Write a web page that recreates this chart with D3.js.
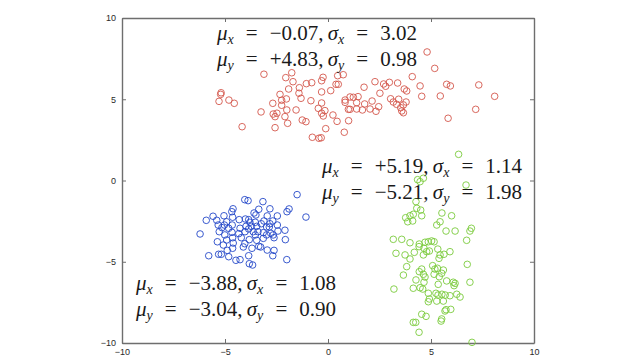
<!DOCTYPE html>
<html><head><meta charset="utf-8">
<script src="https://cdn.jsdelivr.net/npm/d3@7"></script>
<style>body{margin:0;background:#fff}svg{display:block}</style>
</head><body>
<svg id="c" width="640" height="360"></svg>
<script>
const xTicks = [-10, -5, 0, 5, 10];
const yTicks = [-10, -5, 0, 5, 10];

const redX = [-3.11,-1.76,-2.05,-1.70,-0.24,-0.31,0.47,0.74,0.39,0.50,-1.05,-0.79,-1.39,-1.91,-5.19,-5.21,-5.29,-4.81,-4.55,-1.41,-0.31,0.13,-2.33,-2.25,-2.02,-1.31,-0.83,-2.68,-2.25,-0.31,0.83,0.83,1.23,0.99,-1.55,-2.00,-0.47,-0.15,-0.31,-0.23,-3.25,-2.66,-2.57,-2.48,-2.09,-1.96,-1.25,-1.07,0.24,0.44,1.00,-0.11,0.79,-4.17,-2.57,-0.76,-0.33,4.81,5.18,4.09,2.28,2.70,2.98,2.80,3.38,1.75,3.70,3.82,4.47,5.76,5.94,7.32,8.09,2.52,1.46,1.39,1.78,2.14,2.46,2.04,1.67,1.39,1.07,2.33,3.04,3.17,3.33,3.43,3.79,3.66,3.53,3.58,3.66,4.55,5.45,7.17,5.83,-0.44,1.07];
const redY = [6.54,6.63,6.33,6.08,6.35,6.14,6.45,6.51,5.92,5.92,5.96,6.02,5.71,5.63,5.40,5.30,4.87,4.95,4.75,5.37,5.45,5.53,5.30,4.94,5.02,5.06,4.91,4.75,4.63,4.77,4.95,4.81,5.12,4.38,4.34,4.34,4.44,4.30,4.14,3.97,4.22,4.09,3.93,4.14,3.93,3.52,3.72,3.62,4.03,3.64,3.68,3.19,2.97,3.31,3.25,2.66,2.63,7.91,6.90,6.39,6.08,5.94,6.04,5.80,6.00,5.74,5.63,5.51,5.82,5.92,5.82,5.88,5.18,5.37,5.16,4.79,4.71,4.89,4.54,4.40,4.34,4.40,4.38,4.26,5.03,4.83,4.69,5.00,4.83,4.65,4.48,4.28,4.17,5.18,5.20,4.38,3.83,2.60,5.14];

const blueX = [-1.50,-4.04,-3.88,-3.16,-4.61,-2.82,-1.89,-1.99,-3.36,-5.91,-5.58,-5.40,-5.05,-4.67,-4.63,-4.92,-4.31,-4.01,-3.85,-3.59,-3.50,-2.95,-2.46,-1.07,-5.33,-5.03,-4.65,-3.53,-3.11,-2.68,-3.98,-3.72,-3.46,-2.98,-2.85,-2.46,-6.21,-5.28,-5.01,-4.66,-4.33,-4.03,-3.85,-3.63,-3.40,-3.14,-2.78,-2.66,-2.09,-2.43,-5.37,-4.92,-4.63,-4.21,-3.82,-3.46,-3.14,-2.62,-2.07,-4.60,-4.89,-4.63,-4.11,-3.69,-3.36,-3.27,-2.95,-2.62,-5.79,-5.31,-5.18,-4.82,-3.85,-2.68,-2.00,-4.47,-4.27,-3.82,-3.66,-3.79,-3.24,-2.82,-4.27,-4.82,-5.15,-3.53,-2.98,-4.04,-5.08];
const blueY = [-0.87,-1.18,-1.24,-1.30,-1.74,-1.74,-1.75,-1.92,-1.77,-2.45,-2.20,-2.45,-2.17,-1.92,-2.26,-2.54,-2.41,-2.37,-2.41,-2.00,-2.12,-2.18,-2.18,-2.25,-2.74,-2.74,-2.74,-2.57,-2.49,-2.49,-2.82,-2.82,-2.82,-2.86,-2.86,-2.74,-3.29,-3.15,-3.35,-3.19,-3.27,-3.15,-2.98,-3.15,-3.15,-3.21,-3.25,-3.35,-3.06,-3.11,-3.77,-3.66,-3.52,-3.52,-3.64,-3.68,-3.56,-3.52,-3.64,-3.85,-4.30,-4.17,-4.09,-4.17,-4.05,-4.09,-4.28,-4.30,-4.63,-4.54,-4.54,-4.69,-4.63,-4.63,-4.87,-4.91,-4.87,-5.12,-5.20,-2.57,-2.66,-2.66,-2.94,-2.94,-2.90,-3.35,-3.35,-3.89,-3.97];

const greenX = [6.34,6.70,4.63,4.35,4.47,4.27,4.14,3.98,3.77,3.87,4.11,4.55,4.50,4.31,5.53,6.00,5.44,5.28,5.73,6.17,6.96,6.89,6.73,3.17,3.58,3.98,4.43,4.71,4.87,5.03,5.15,3.30,3.74,3.98,4.19,4.42,4.66,4.79,4.92,4.63,5.33,5.44,5.39,5.63,5.92,3.82,3.66,4.55,4.43,4.63,4.71,5.08,5.19,5.31,5.15,5.60,5.52,5.40,5.76,6.76,4.27,4.66,5.35,6.08,6.12,6.17,6.89,3.20,4.14,4.47,4.60,4.87,5.24,5.34,5.53,5.69,5.92,6.25,6.41,4.92,4.87,5.28,5.60,5.73,5.68,5.96,4.55,4.76,5.52,5.49,4.14,4.26,4.42,6.99];
const greenY = [1.61,-0.28,0.14,0.05,-0.07,-1.30,-2.08,-2.17,-2.29,-2.54,-2.49,-2.17,-1.82,-1.71,-2.00,-2.17,-2.54,-2.74,-3.11,-3.11,-2.94,-3.11,-3.68,-3.62,-3.62,-3.83,-3.91,-3.80,-3.77,-3.72,-3.77,-4.48,-4.58,-4.83,-4.42,-4.07,-4.17,-4.38,-4.34,-4.58,-4.22,-4.58,-4.79,-4.54,-4.38,-5.30,-5.82,-5.45,-5.61,-5.77,-5.94,-5.24,-5.45,-5.40,-5.77,-5.51,-5.71,-5.92,-6.18,-5.16,-6.12,-6.26,-6.39,-6.26,-6.47,-6.33,-6.26,-6.68,-6.63,-6.60,-6.68,-6.94,-6.94,-7.05,-7.00,-7.05,-7.09,-7.00,-7.17,-7.29,-7.46,-7.42,-7.42,-7.95,-8.03,-7.93,-8.23,-8.36,-8.52,-8.65,-8.73,-8.73,-9.34,-9.96];

const muX = ["\u22120.07", "+5.19", "\u22123.88"];
const sigX = ["3.02", "1.14", "1.08"];
const muY = ["+4.83", "\u22125.21", "\u22123.04"];
const sigY = ["0.98", "1.98", "0.90"];
const labelAt = [[-5.39, 8.65], [-0.29, 0.46], [-9.32, -6.74]];

const svg = d3.select("#c");
const x = d3.scaleLinear().domain([-10, 10]).range([122, 534]);
const y = d3.scaleLinear().domain([-10, 10]).range([343, 18]);

const axisColor = "#6e6e6e";
function styleAxis(g, showLabels) {
  g.select(".domain").attr("stroke", axisColor).attr("stroke-width", 1.4);
  g.selectAll(".tick line").attr("stroke", axisColor).attr("stroke-width", 1);
  g.selectAll(".tick text").attr("fill", "#2a2a2a").style("font-family", "Liberation Sans, Arial, sans-serif").style("font-size", "9px");
  if (!showLabels) g.selectAll(".tick text").remove();
}
svg.append("g").attr("transform", `translate(0,${y(-10)})`)
  .call(d3.axisBottom(x).tickValues(xTicks).tickSize(-4).tickSizeOuter(0).tickPadding(6).tickFormat(d3.format("d")))
  .call(g => styleAxis(g, true));
svg.append("g").attr("transform", `translate(0,${y(10)})`)
  .call(d3.axisTop(x).tickValues(xTicks).tickSize(-4).tickSizeOuter(0))
  .call(g => styleAxis(g, false));
svg.append("g").attr("transform", `translate(${x(-10)},0)`)
  .call(d3.axisLeft(y).tickValues(yTicks).tickSize(-4).tickSizeOuter(0).tickPadding(6).tickFormat(d3.format("d")))
  .call(g => styleAxis(g, true));
svg.append("g").attr("transform", `translate(${x(10)},0)`)
  .call(d3.axisRight(y).tickValues(yTicks).tickSize(-4).tickSizeOuter(0))
  .call(g => styleAxis(g, false));

function cluster(xs, ys, color) {
  svg.append("g").selectAll("circle").data(xs.map((v, i) => [v, ys[i]])).join("circle")
    .attr("cx", d => x(d[0])).attr("cy", d => y(d[1])).attr("r", 3.3)
    .attr("fill", "none").attr("stroke", color).attr("stroke-width", 0.9);
}
cluster(redX, redY, "#d4574c");
cluster(blueX, blueY, "#2548c8");
cluster(greenX, greenY, "#7acb3c");

const fontFam = "Liberation Serif, Times New Roman, serif";
const targetW = 200;
function mathLine(g, sym, mu, sig, yy) {
  const t = g.append("text").attr("x", 0).attr("y", yy).attr("xml:space", "preserve")
    .style("font-family", fontFam).style("font-size", "21px").attr("fill", "#1a1a1a");
  t.append("tspan").style("font-style", "italic").text("\u03bc");
  t.append("tspan").style("font-style", "italic").style("font-size", "14px").attr("dy", 4).text(sym);
  t.append("tspan").attr("dy", -4).text(" = " + mu + ",\u2009");
  t.append("tspan").style("font-style", "italic").text("\u03c3");
  t.append("tspan").style("font-style", "italic").style("font-size", "14px").attr("dy", 4).text(sym);
  t.append("tspan").attr("dy", -4).text(" = " + sig);
  const w = t.node().getComputedTextLength();
  t.style("word-spacing", Math.max(0, (targetW - w) / 4).toFixed(2) + "px");
}
labelAt.forEach((p, i) => {
  const g = svg.append("g").attr("transform", `translate(${x(p[0])},${y(p[1])})`);
  mathLine(g, "x", muX[i], sigX[i], 0);
  mathLine(g, "y", muY[i], sigY[i], 26);
});
</script>
</body></html>
